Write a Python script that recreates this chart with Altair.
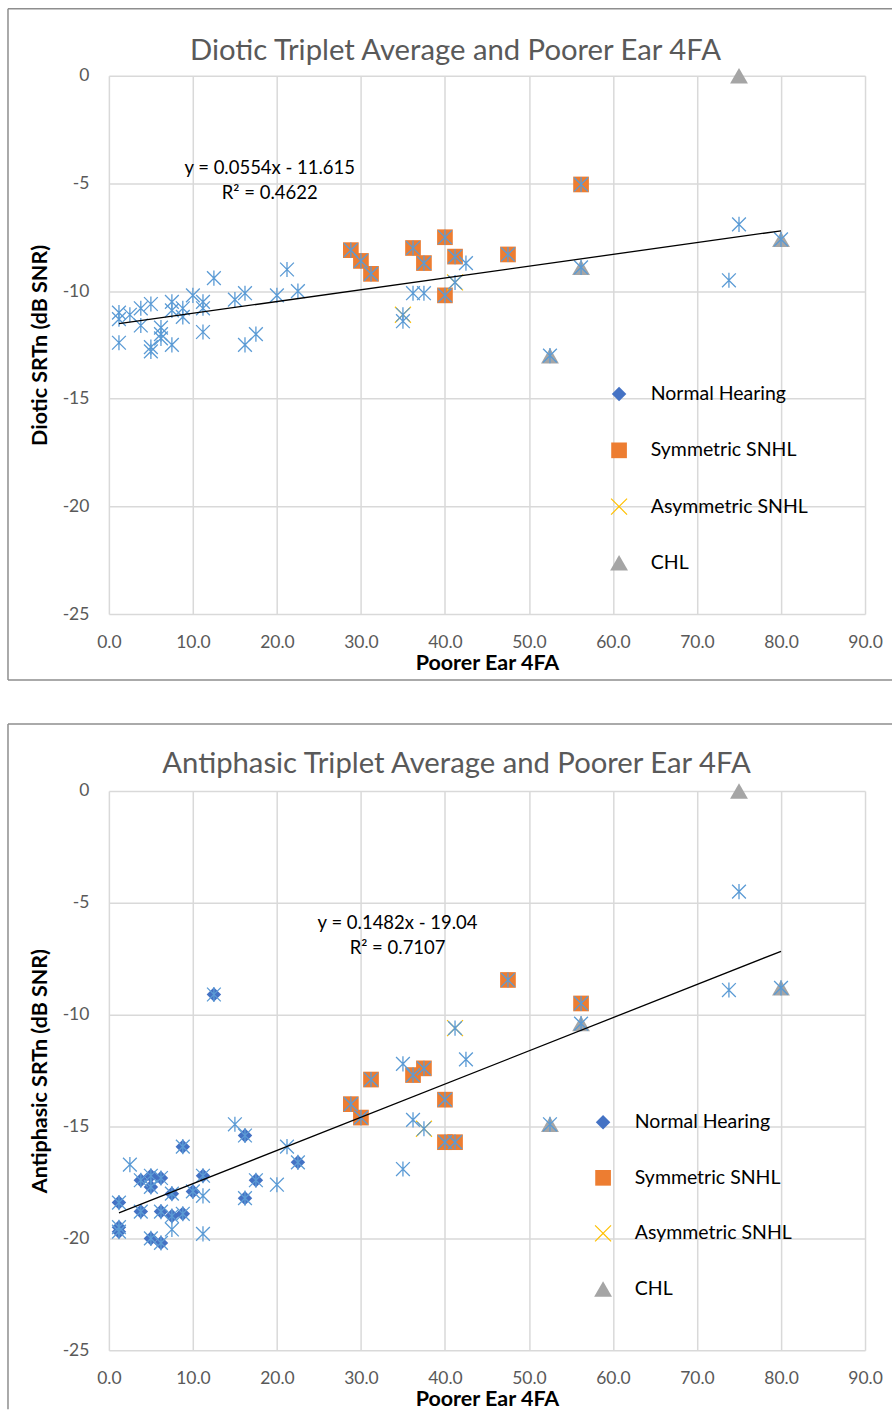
import altair as alt
import pandas as pd

# ---------------- data ----------------
all_x = [1.2, 1.2, 1.2, 2.5, 3.8, 3.8, 5.0, 5.0, 5.0, 6.2, 6.2, 6.2, 7.5, 7.5, 7.5,
         8.8, 8.8, 10.0, 11.2, 11.2, 11.2, 12.5, 15.0, 16.2, 16.2, 17.5, 20.0, 21.2,
         22.5, 28.8, 30.0, 31.2, 35.0, 35.0, 36.2, 36.2, 37.5, 37.5, 40.0, 40.0,
         41.2, 41.2, 42.5, 47.5, 52.5, 56.2, 56.2, 73.8, 75.0, 80.0]
all_diotic = [-11.0, -11.3, -12.4, -11.1, -10.8, -11.6, -10.6, -12.6, -12.8, -11.7,
              -12.0, -12.2, -10.5, -10.9, -12.5, -10.8, -11.2, -10.2, -10.5, -10.8,
              -11.9, -9.4, -10.4, -10.1, -12.5, -12.0, -10.2, -9.0, -10.0, -8.1,
              -8.6, -9.2, -11.1, -11.4, -8.0, -10.1, -8.7, -10.1, -7.5, -10.2,
              -8.4, -9.6, -8.7, -8.3, -13.0, -5.05, -8.9, -9.5, -6.9, -7.6]
all_antiphasic = [-18.4, -19.5, -19.7, -16.7, -17.4, -18.8, -17.2, -17.7, -20.0, -17.3,
                  -18.8, -20.2, -18.0, -19.0, -19.6, -15.9, -18.9, -17.9, -17.2, -18.1,
                  -19.8, -9.1, -14.9, -15.4, -18.2, -17.4, -17.6, -15.9, -16.6, -14.0,
                  -14.6, -12.9, -12.2, -16.9, -12.7, -14.7, -12.4, -15.1, -13.8, -15.7,
                  -15.7, -10.6, -12.0, -8.45, -14.9, -9.5, -10.4, -8.9, -4.5, -8.8]

nh_x_diotic = []
nh_diotic = []
nh_x_antiphasic = [1.2, 1.2, 1.2, 3.8, 3.8, 5.0, 5.0, 5.0, 6.2, 6.2, 6.2, 7.5, 7.5,
                   8.8, 8.8, 10.0, 11.2, 12.5, 16.2, 16.2, 17.5, 22.5]
nh_antiphasic = [-18.4, -19.5, -19.7, -17.4, -18.8, -17.2, -17.7, -20.0, -17.3, -18.8,
                 -20.2, -18.0, -19.0, -15.9, -18.9, -17.9, -17.2, -9.1, -15.4, -18.2,
                 -17.4, -16.6]

sym_x = [28.8, 30.0, 31.2, 36.2, 37.5, 40.0, 40.0, 41.2, 47.5, 56.2]
sym_diotic = [-8.1, -8.6, -9.2, -8.0, -8.7, -7.5, -10.2, -8.4, -8.3, -5.05]
sym_antiphasic = [-14.0, -14.6, -12.9, -12.7, -12.4, -13.8, -15.7, -15.7, -8.45, -9.5]

asym_x_diotic = [35.0, 41.2]
asym_diotic = [-11.1, -9.6]
asym_x_antiphasic = [37.5, 41.2]
asym_antiphasic = [-15.1, -10.6]

chl_x = [52.5, 56.2, 75.0, 80.0]
chl_diotic = [-13.0, -8.9, 0.0, -7.6]
chl_antiphasic = [-14.9, -10.4, 0.0, -8.8]

series_names = ["Normal Hearing", "Symmetric SNHL", "Asymmetric SNHL", "CHL"]
series_colors = ["#4472C4", "#ED7D31", "#FFC000", "#A5A5A5"]

x_ticks = [0, 10, 20, 30, 40, 50, 60, 70, 80, 90]
y_ticks = [-25, -20, -15, -10, -5, 0]

titles = ["Diotic Triplet Average and Poorer Ear 4FA",
          "Antiphasic Triplet Average and Poorer Ear 4FA"]
y_titles = ["Diotic SRTn (dB SNR)", "Antiphasic SRTn (dB SNR)"]
x_title = "Poorer Ear 4FA"
equations = [["y = 0.0554x - 11.615", "R\u00b2 = 0.4622"],
             ["y = 0.1482x - 19.04", "R\u00b2 = 0.7107"]]

# ---------------- styling ----------------
FONT = "Lato"
W = 757
ASTERISK = "M-1,-1L1,1M-1,1L1,-1M0,-1.1L0,1.1"
XMARK = ("M-1,-0.9L-0.9,-1L0,-0.1L0.9,-1L1,-0.9L0.1,0L1,0.9L0.9,1L0,0.1"
         "L-0.9,1L-1,0.9L-0.1,0Z")
shape_range = ["diamond", "square", XMARK, "triangle-up"]
size_range = [210, 320, 190, 300]
BORDER = "#8E8E8E"


def panel(idx, height, y_all, groups, legend_xy, row_pad, eq_xy, title_xy, bottom_y, draw_bottom):
    X = alt.X("x:Q", scale=alt.Scale(domain=[0, 90], nice=False, zero=False),
              axis=alt.Axis(values=x_ticks, format=".1f", title=x_title, labelFlush=False))
    Y = alt.Y("y:Q", scale=alt.Scale(domain=[-25, 0], nice=False, zero=False),
              axis=alt.Axis(values=y_ticks, title=y_titles[idx], labelFlush=False,
                            labelExpr="datum.value < 0 ? '-' + (-datum.value) : '' + datum.value"))

    rows = []
    for name, xs, ys in groups:
        for a, b in zip(xs, ys):
            rows.append({"x": a, "y": b, "series": name})
    df_cat = pd.DataFrame(rows, columns=["x", "y", "series"])
    df_all = pd.DataFrame({"x": all_x, "y": y_all})
    one = pd.DataFrame({"k": [0]})

    cats = alt.Chart(df_cat).mark_point(filled=True, opacity=1, strokeWidth=0).encode(
        x=X, y=Y,
        color=alt.Color("series:N", scale=alt.Scale(domain=series_names, range=series_colors),
                        legend=alt.Legend(orient="none", legendX=legend_xy[0], legendY=legend_xy[1],
                                          title=None, labelFont=FONT, labelFontSize=19.5,
                                          labelColor="#000000", symbolSize=80,
                                          rowPadding=row_pad, labelOffset=22, padding=0,
                                          symbolStrokeWidth=0, symbolOpacity=1)),
        shape=alt.Shape("series:N", scale=alt.Scale(domain=series_names, range=shape_range)),
        size=alt.Size("series:N", scale=alt.Scale(domain=series_names, range=size_range),
                      legend=None),
    )

    stars = alt.Chart(df_all).mark_point(shape=ASTERISK, filled=False, size=190,
                                         color="#5B9BD5", strokeWidth=1.3, opacity=1).encode(x=X, y=Y)

    trend = alt.Chart(df_all).transform_regression("x", "y").mark_line(
        color="#000000", strokeWidth=1.3).encode(x=X, y=Y)

    eq = alt.Chart(one).mark_text(text=equations[idx], font=FONT, fontSize=18.5,
                                  color="#000000", align="center", baseline="middle",
                                  lineHeight=25).encode(x=alt.value(eq_xy[0]), y=alt.value(eq_xy[1]))

    ttl = alt.Chart(one).mark_text(text=titles[idx], font=FONT, fontSize=29.3,
                                   color="#595959", align="center", baseline="middle").encode(
        x=alt.value(title_xy[0]), y=alt.value(title_xy[1]))

    top = alt.Chart(one).mark_rule(color=BORDER, strokeWidth=1.5).encode(
        x=alt.value(-101), x2=alt.value(784), y=alt.value(-67))
    left = alt.Chart(one).mark_rule(color=BORDER, strokeWidth=1.5).encode(
        x=alt.value(-101), y=alt.value(-67), y2=alt.value(bottom_y))
    layers = [top, left]
    if draw_bottom:
        bottom = alt.Chart(one).mark_rule(color=BORDER, strokeWidth=1.5).encode(
            x=alt.value(-101), x2=alt.value(784), y=alt.value(bottom_y))
        layers.append(bottom)

    return alt.layer(*layers, cats, stars, trend, eq, ttl).properties(width=W, height=height)


p1 = panel(0, 539, all_diotic,
           [("Normal Hearing", nh_x_diotic, nh_diotic),
            ("Symmetric SNHL", sym_x, sym_diotic),
            ("Asymmetric SNHL", asym_x_diotic, asym_diotic),
            ("CHL", chl_x, chl_diotic)],
           legend_xy=(501, 309), row_pad=35.3, eq_xy=(161, 92), title_xy=(347, -25),
           bottom_y=605, draw_bottom=True)
p2 = panel(1, 560, all_antiphasic,
           [("Normal Hearing", nh_x_antiphasic, nh_antiphasic),
            ("Symmetric SNHL", sym_x, sym_antiphasic),
            ("Asymmetric SNHL", asym_x_antiphasic, asym_antiphasic),
            ("CHL", chl_x, chl_antiphasic)],
           legend_xy=(485, 322), row_pad=34.6, eq_xy=(289, 132), title_xy=(348, -27),
           bottom_y=619, draw_bottom=False)

chart = alt.vconcat(p1, p2, spacing=42).resolve_scale(
    color="independent", shape="independent", size="independent",
    x="independent", y="independent"
).resolve_legend(color="independent", shape="independent", size="independent").properties(
    padding={"left": 7, "top": 7, "right": 0, "bottom": 0},
    background="white",
).configure_view(stroke=None).configure_axis(
    labelFont=FONT, labelFontSize=17.5, labelColor="#595959",
    titleFont=FONT, titleFontSize=21.5, titleFontWeight="bold", titleColor="#000000",
    ticks=False, domain=False, grid=True, gridColor="#D9D9D9", gridWidth=1.5,
).configure_axisX(labelPadding=19, titlePadding=2).configure_axisY(labelPadding=20, titlePadding=11)

chart.save("out.html", embed_options={"renderer": "svg", "actions": False})
